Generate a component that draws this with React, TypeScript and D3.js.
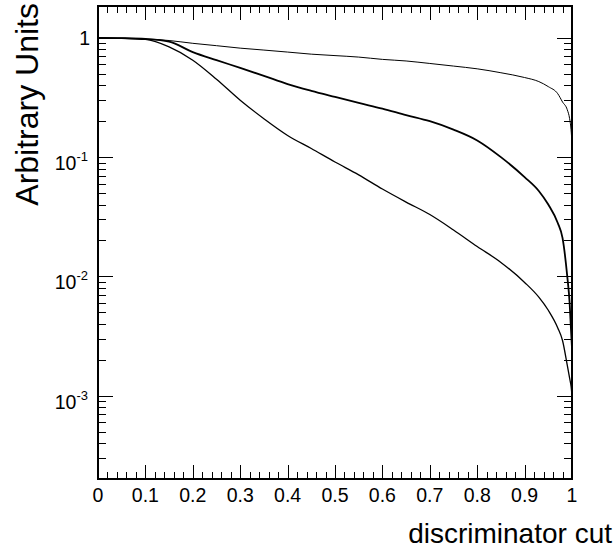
import React from 'react';
import * as d3 from 'd3';

// discriminator cut values (x) shared by the three curves
const cuts = [0, 0.05, 0.1, 0.15, 0.2, 0.25, 0.3, 0.35, 0.4, 0.45, 0.5, 0.55, 0.6, 0.65, 0.7, 0.75, 0.8, 0.85, 0.9, 0.93, 0.95, 0.97, 0.98, 0.99, 0.995, 0.998, 1.0];

// fraction passing the cut
const upper = [1.0, 0.995, 0.98, 0.95, 0.9, 0.86, 0.82, 0.79, 0.76, 0.73, 0.71, 0.69, 0.66, 0.64, 0.61, 0.58, 0.55, 0.51, 0.465, 0.43, 0.39, 0.34, 0.29, 0.25, 0.21, 0.17, 0.13];
const middle = [1.0, 0.995, 0.98, 0.93, 0.76, 0.65, 0.56, 0.48, 0.41, 0.36, 0.32, 0.285, 0.255, 0.225, 0.2, 0.17, 0.138, 0.1, 0.068, 0.052, 0.04, 0.028, 0.021, 0.01, 0.006, 0.0035, 0.0025];
const lower = [1.0, 0.99, 0.97, 0.84, 0.65, 0.45, 0.3, 0.21, 0.152, 0.118, 0.091, 0.071, 0.054, 0.042, 0.033, 0.0245, 0.0178, 0.0131, 0.0089, 0.0067, 0.0052, 0.0037, 0.0029, 0.0018, 0.0014, 0.0012, 0.001];

const xTickLabels = ['0', '0.1', '0.2', '0.3', '0.4', '0.5', '0.6', '0.7', '0.8', '0.9', '1'];
const yDecades = [0, -1, -2, -3];

const series = [
  {name: 'upper', values: upper, width: 1},
  {name: 'middle', values: middle, width: 1.8},
  {name: 'lower', values: lower, width: 1.3},
];

const W = 616, H = 554;
const left = 98, right = 572, top = 6, bottom = 479;
const font = 'Liberation Sans, Arial, Helvetica, sans-serif';

export default function App() {
  const x = d3.scaleLinear().domain([0, 1]).range([left, right]);
  const y = d3.scaleLog().domain([2e-4, 1.85]).range([bottom, top]);

  const line = d3.line<number>()
    .x((d, i) => x(cuts[i]))
    .y(d => y(d))
    .curve(d3.curveMonotoneX);

  // x ticks every 0.02, major every 0.1
  const xTicks = d3.range(0, 51).map(i => ({v: i / 50, major: i % 5 === 0}));
  // log ticks 1..9 per decade inside the domain
  const yTicks: {v: number, major: boolean}[] = [];
  for (let d = -4; d <= 0; d++) {
    for (let k = 1; k <= 9; k++) {
      const v = k * Math.pow(10, d);
      if (v >= 2e-4 && v <= 1.85) yTicks.push({v, major: k === 1});
    }
  }

  return (
    <svg width={W} height={H} style={{display: 'block', position: 'absolute', left: 0, top: 0, background: '#fff'}}>
      <rect x={0} y={0} width={W} height={H} fill="#fff" />
      <g fill="none" stroke="#000">
        {series.map(s => (
          <path key={s.name} d={line(s.values) || ''} strokeWidth={s.width} strokeLinejoin="round" />
        ))}
      </g>
      <g stroke="#000" strokeWidth={1}>
        {xTicks.map(t => {
          const len = t.major ? 14 : 7;
          const px = Math.round(x(t.v)) + 0.5;
          return (
            <g key={'x' + t.v}>
              <line x1={px} x2={px} y1={bottom} y2={bottom - len} />
              <line x1={px} x2={px} y1={top} y2={top + len} />
            </g>
          );
        })}
        {yTicks.map(t => {
          const len = t.major ? 15 : 8;
          const py = Math.round(y(t.v)) + 0.5;
          return (
            <g key={'y' + t.v}>
              <line x1={left} x2={left + len} y1={py} y2={py} />
              <line x1={right} x2={right - len} y1={py} y2={py} />
            </g>
          );
        })}
      </g>
      <rect x={left} y={top} width={right - left} height={bottom - top} fill="none" stroke="#000" strokeWidth={2} />
      <g fontFamily={font} fontSize={19.5} fill="#000">
        {xTickLabels.map((l, i) => (
          <text key={l} x={x(i / 10)} y={502} textAnchor="middle">{l}</text>
        ))}
        {yDecades.map(d => d === 0 ? (
          <text key={d} x={90} y={y(1) + 7} textAnchor="end">1</text>
        ) : (
          <text key={d} x={88} y={y(Math.pow(10, d)) + 13} textAnchor="end">
            10<tspan dy={-9} fontSize={13}>{String(d)}</tspan>
          </text>
        ))}
      </g>
      <text x={612} y={543} textAnchor="end" fontFamily={font} fontSize={28}>discriminator cut</text>
      <text transform="translate(38,3) rotate(-90)" textAnchor="end" fontFamily={font} fontSize={32}>Arbitrary Units</text>
    </svg>
  );
}
